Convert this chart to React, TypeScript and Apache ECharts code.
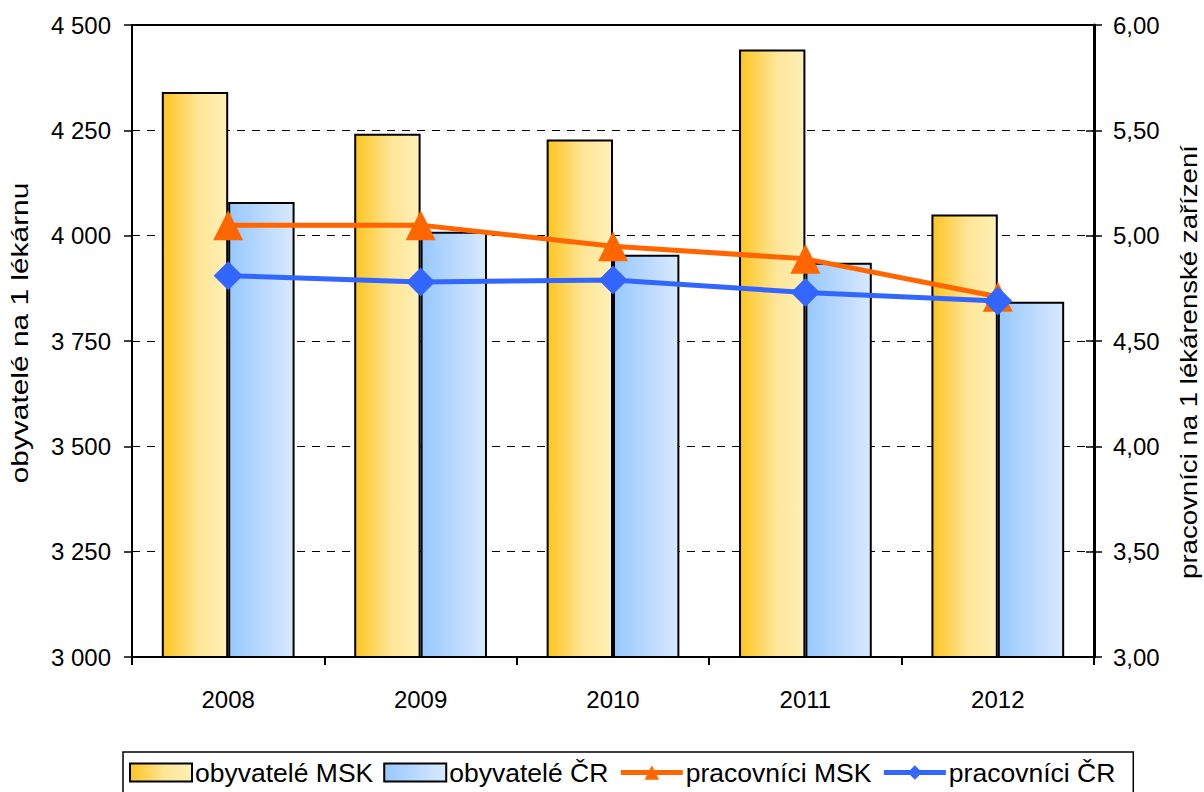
import React, { useEffect, useRef } from "react";
import * as echarts from "echarts";

const years = ["2008", "2009", "2010", "2011", "2012"];
const obyvateleMSK = [4341, 4242, 4228, 4442, 4050];
const obyvateleCR = [4080, 4009, 3955, 3936, 3843];
const pracovniciMSK = [5.05, 5.05, 4.95, 4.89, 4.71];
const pracovniciCR = [4.81, 4.78, 4.79, 4.73, 4.69];
const leftTitle = "obyvatelé na 1 lékárnu";
const rightTitle = "pracovníci na 1 lékárenské zařízení";

const font = "Arial, 'Liberation Sans', sans-serif";

export default function App() {
  const ref = useRef<HTMLDivElement>(null);
  useEffect(() => {
    if (!ref.current) return;
    const chart = echarts.init(ref.current, undefined, { renderer: "svg" });
    const goldGrad = new echarts.graphic.LinearGradient(0, 0, 1, 0, [
      { offset: 0, color: "#FDC521" },
      { offset: 0.55, color: "#FEE596" },
      { offset: 1, color: "#FFF0B6" },
    ]);
    const blueGrad = new echarts.graphic.LinearGradient(0, 0, 1, 0, [
      { offset: 0, color: "#96C8FD" },
      { offset: 0.55, color: "#BCDAFE" },
      { offset: 1, color: "#D8E9FF" },
    ]);
    chart.setOption({
      animation: false,
      grid: {
        left: 132,
        right: 110,
        top: 25,
        bottom: 135,
        show: true,
        borderColor: "#000",
        borderWidth: 2,
        containLabel: false,
        outerBoundsMode: "none",
      },
      graphic: [
        {
          type: "text",
          x: 20,
          y: 333,
          rotation: Math.PI / 2,
          scaleX: 1.3,
          style: {
            text: leftTitle,
            font: "23px " + font,
            fill: "#000",
            textAlign: "center",
            textVerticalAlign: "middle",
          },
        },
        {
          type: "text",
          x: 1189,
          y: 362,
          rotation: Math.PI / 2,
          scaleX: 1.2,
          style: {
            text: rightTitle,
            font: "23px " + font,
            fill: "#000",
            textAlign: "center",
            textVerticalAlign: "middle",
          },
        },
      ],
      legend: {
        left: 123,
        top: 752,
        padding: [7, 18, 20, 6],
        itemGap: 10,
        itemWidth: 62,
        itemHeight: 18,
        borderColor: "#000",
        borderWidth: 1.5,
        textStyle: { fontFamily: font, fontSize: 26.5, color: "#000", padding: [0, 0, 0, -2] },
        data: [
          { name: "obyvatelé MSK", icon: "rect" },
          { name: "obyvatelé ČR", icon: "rect" },
          { name: "pracovníci MSK", lineStyle: { width: 5, color: "#FF6600" } },
          { name: "pracovníci ČR", lineStyle: { width: 5, color: "#3366FF" } },
        ],
      },
      xAxis: {
        type: "category",
        data: years,
        boundaryGap: true,
        axisLine: { lineStyle: { color: "#000", width: 2 } },
        axisTick: { show: true, length: 8, lineStyle: { color: "#000", width: 2 } },
        axisLabel: { fontFamily: font, fontSize: 24, color: "#000", margin: 30 },
      },
      yAxis: [
        {
          type: "value",
          min: 3000,
          max: 4500,
          interval: 250,
          position: "left",
          axisLine: { show: true, lineStyle: { color: "#000", width: 2 } },
          axisTick: { show: true, length: 8, lineStyle: { color: "#000", width: 1.5 } },
          axisLabel: {
            fontFamily: font,
            fontSize: 24,
            color: "#000",
            margin: 21,
            formatter: (v: number) => {
              const s = String(Math.round(v));
              return s.length > 3 ? s.slice(0, s.length - 3) + " " + s.slice(-3) : s;
            },
          },
          splitLine: { show: true, lineStyle: { color: "#000", width: 1, type: [8, 7] } },
        },
        {
          type: "value",
          min: 3,
          max: 6,
          interval: 0.5,
          position: "right",
          axisLine: { show: true, lineStyle: { color: "#000", width: 3 } },
          axisTick: { show: true, length: 8, lineStyle: { color: "#000", width: 1.5 } },
          axisLabel: {
            fontFamily: font,
            fontSize: 24,
            color: "#000",
            margin: 19,
            formatter: (v: number) => v.toFixed(2).replace(".", ","),
          },
          splitLine: { show: false },
        },
        {
          type: "value",
          min: 3,
          max: 6,
          interval: 0.5,
          position: "right",
          axisLine: { show: false },
          axisTick: { show: true, inside: true, length: 8, lineStyle: { color: "#000", width: 1.5 } },
          axisLabel: { show: false },
          splitLine: { show: false },
        },
      ],
      series: [
        {
          name: "obyvatelé MSK",
          type: "bar",
          data: obyvateleMSK,
          barGap: "0%",
          barCategoryGap: "31%",
          itemStyle: { color: goldGrad, borderColor: "#000", borderWidth: 2 },
        },
        {
          name: "obyvatelé ČR",
          type: "bar",
          data: obyvateleCR,
          barGap: "0%",
          barCategoryGap: "31%",
          itemStyle: { color: blueGrad, borderColor: "#000", borderWidth: 2 },
        },
        {
          name: "pracovníci MSK",
          type: "line",
          yAxisIndex: 1,
          data: pracovniciMSK,
          symbol: "triangle",
          symbolSize: 30,
          lineStyle: { color: "#FF6600", width: 5 },
          itemStyle: { color: "#FF6600" },
          z: 5,
        },
        {
          name: "pracovníci ČR",
          type: "line",
          yAxisIndex: 1,
          data: pracovniciCR,
          symbol: "diamond",
          symbolSize: 29,
          lineStyle: { color: "#3366FF", width: 5 },
          itemStyle: { color: "#3366FF" },
          z: 6,
        },
      ],
    });
    return () => chart.dispose();
  }, []);
  return <div ref={ref} style={{ width: 1204, height: 792, position: "absolute", left: 0, top: 0 }} />;
}
